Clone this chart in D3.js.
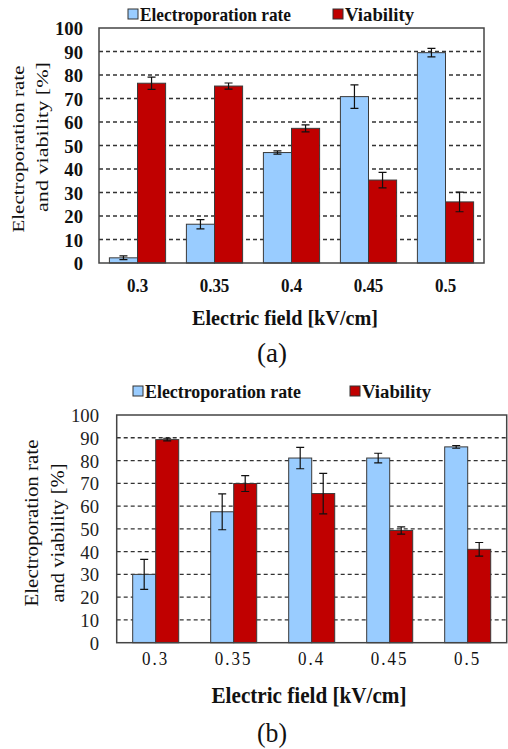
<!DOCTYPE html>
<html>
<head>
<meta charset="utf-8">
<script src="https://cdn.jsdelivr.net/npm/d3@7"></script>
<style>
  body { margin: 0; background: #fff; }
  svg { display: block; }
</style>
</head>
<body>
<div id="chart"></div>
<script>
// values
const fieldLabels = ['0.3', '0.35', '0.4', '0.45', '0.5'];
const seriesNames = ['Electroporation rate', 'Viability'];
const yTicks = [0, 10, 20, 30, 40, 50, 60, 70, 80, 90, 100];

const rateA = [2.2, 16.5, 47, 70.8, 89.5];
const rateErrA = [0.8, 2, 0.7, 5, 1.8];
const viaA = [76.5, 75.3, 57.3, 35.3, 26];
const viaErrA = [2.6, 1.3, 1.5, 3.3, 4.2];

const rateB = [30, 57.5, 81.1, 81.1, 86];
const rateErrB = [6.6, 7.9, 4.7, 2.1, 0.6];
const viaB = [89.2, 69.9, 65.5, 49.3, 41];
const viaErrB = [0.6, 3.5, 8.9, 1.6, 3];

const colors = ['#99ccff', '#c00000'];
const serif = "'Liberation Serif', 'DejaVu Serif', 'Times New Roman', Times, serif";

const svg = d3.select('#chart')
  .append('svg')
  .attr('width', 508)
  .attr('height', 749)
  .attr('font-family', serif);

function label(x, y, s, o) {
  const sx = o.sx || 1, sy = o.sy || 1.1;
  const t = svg.append('text')
    .attr('transform', `translate(${x},${y})${o.rotate ? ' rotate(-90)' : ''} scale(${sx},${sy})`)
    .attr('text-anchor', o.anchor || 'middle')
    .attr('dy', '0.35em')
    .attr('font-family', serif)
    .attr('font-size', o.size)
    .attr('font-weight', o.bold ? 'bold' : 'normal')
    .attr('fill', '#111')
    .text(s);
  if (o.len) {
    t.attr('textLength', o.len / sx).attr('lengthAdjust', 'spacingAndGlyphs');
  }
}

function drawPanel(p) {
  const x0 = d3.scaleBand()
    .domain(fieldLabels)
    .range([p.left, p.right])
    .paddingInner(p.pad)
    .paddingOuter(p.pad / 2);

  const x1 = d3.scaleBand()
    .domain(seriesNames)
    .range([0, x0.bandwidth()]);

  const y = d3.scaleLinear()
    .domain([0, 100])
    .range([p.bottom, p.top]);

  // dashed grid
  svg.append('g')
    .selectAll('line')
    .data(yTicks.filter(t => t > 0 && t < 100))
    .join('line')
    .attr('x1', p.left)
    .attr('x2', p.right)
    .attr('y1', d => y(d))
    .attr('y2', d => y(d))
    .attr('stroke', '#333')
    .attr('stroke-width', 1.3)
    .attr('stroke-dasharray', '4,3');

  const series = [
    { name: seriesNames[0], values: p.rate, errs: p.rateErr },
    { name: seriesNames[1], values: p.via, errs: p.viaErr }
  ];

  series.forEach((s, si) => {
    const g = svg.append('g');
    g.selectAll('rect')
      .data(s.values)
      .join('rect')
      .attr('x', (d, i) => x0(fieldLabels[i]) + x1(s.name))
      .attr('y', d => y(d))
      .attr('width', x1.bandwidth())
      .attr('height', d => y(0) - y(d))
      .attr('fill', colors[si])
      .attr('stroke', '#3a3a3a')
      .attr('stroke-width', 1);

    const cx = i => x0(fieldLabels[i]) + x1(s.name) + x1.bandwidth() / 2;
    s.values.forEach((d, i) => {
      const e = s.errs[i];
      g.append('path')
        .attr('d', `M${cx(i)},${y(d - e)}V${y(d + e)}` +
          `M${cx(i) - 4},${y(d - e)}H${cx(i) + 4}` +
          `M${cx(i) - 4},${y(d + e)}H${cx(i) + 4}`)
        .attr('stroke', '#111')
        .attr('stroke-width', 1.2)
        .attr('fill', 'none');
    });
  });

  // plot frame
  svg.append('rect')
    .attr('x', p.left)
    .attr('y', y(100))
    .attr('width', p.right - p.left)
    .attr('height', y(0) - y(100))
    .attr('fill', 'none')
    .attr('stroke', '#444')
    .attr('stroke-width', 1.5);

  // y axis labels
  const ya = svg.append('g')
    .attr('transform', `translate(${p.left},0)`)
    .call(d3.axisLeft(y).tickValues(yTicks).tickSize(0))
    .attr('font-family', serif)
    .attr('font-size', p.tickSize)
    .attr('font-weight', p.tickBold ? 'bold' : 'normal');
  ya.select('.domain').remove();
  ya.selectAll('text')
    .attr('x', -p.yPad / 1.1)
    .attr('dy', '0.35em')
    .attr('transform', 'scale(1.1,1.1)')
    .attr('fill', p.tickBold ? '#111' : '#222');

  // x axis labels
  const xa = svg.append('g')
    .attr('transform', `translate(0,${p.bottom})`)
    .call(d3.axisBottom(x0).tickSize(0))
    .attr('font-family', serif)
    .attr('font-size', p.xTickSize)
    .attr('font-weight', p.tickBold ? 'bold' : 'normal');
  xa.select('.domain').remove();
  xa.selectAll('text')
    .attr('y', p.xPad / 1.1)
    .attr('dy', '0.35em')
    .attr('transform', 'scale(1,1.1)')
    .attr('letter-spacing', p.xSpacing)
    .attr('fill', '#111');

  // titles
  label(p.yt1x, p.yt1y, 'Electroporation rate', { size: p.ytSize, rotate: true, sx: 1, sy: 1, len: p.yt1len });
  label(p.yt2x, p.yt2y, 'and viability [%]', { size: p.ytSize, rotate: true, sx: 1, sy: 1, len: p.yt2len });
  label(p.xtx, p.xty, 'Electric field [kV/cm]', { size: p.xtSize, bold: true, len: p.xtLen });
  label(p.capX, p.capY, p.caption, { size: 24, len: 30 });

  // legend
  series.forEach((s, si) => {
    svg.append('rect')
      .attr('x', p.legX[si])
      .attr('y', p.legY - 5)
      .attr('width', 10)
      .attr('height', 10)
      .attr('fill', colors[si])
      .attr('stroke', '#333')
      .attr('stroke-width', 1);
    label(p.legX[si] + 12, p.legY, s.name, { size: p.legSize, bold: true, anchor: 'start', len: p.legLen[si] });
  });
}

drawPanel({
  left: 99, right: 484, top: 28, bottom: 263, pad: 0.27,
  rate: rateA, rateErr: rateErrA, via: viaA, viaErr: viaErrA,
  yPad: 16, xPad: 22, tickSize: 17, xTickSize: 17, xSpacing: 0, tickBold: true,
  ytSize: 17, yt1x: 18, yt1y: 149, yt1len: 167, yt2x: 42, yt2y: 137, yt2len: 150,
  xtSize: 20, xtx: 285, xty: 317, xtLen: 186,
  caption: '(a)', capX: 272, capY: 353,
  legX: [128, 333], legY: 14, legSize: 17, legLen: [151, 69]
});

drawPanel({
  left: 116.7, right: 506.7, top: 415, bottom: 642.7, pad: 0.41,
  rate: rateB, rateErr: rateErrB, via: viaB, viaErr: viaErrB,
  yPad: 17.7, xPad: 15.6, tickSize: 17, xTickSize: 17, xSpacing: 2, tickBold: false,
  ytSize: 18, yt1x: 32, yt1y: 523, yt1len: 167, yt2x: 58, yt2y: 533, yt2len: 139,
  xtSize: 21, xtx: 309, xty: 695, xtLen: 195,
  caption: '(b)', capX: 272, capY: 733,
  legX: [133, 350], legY: 391, legSize: 17.5, legLen: [156, 69]
});
</script>
</body>
</html>
